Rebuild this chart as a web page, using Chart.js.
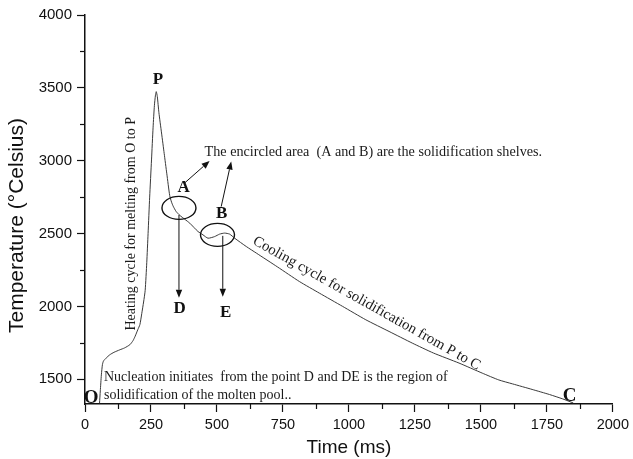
<!DOCTYPE html>
<html>
<head>
<meta charset="utf-8">
<script src="https://cdn.jsdelivr.net/npm/chart.js@4"></script>
<style>
html,body{margin:0;padding:0;background:#fff;}
#wrap{width:633px;height:459px;position:relative;}
</style>
</head>
<body>
<div id="wrap"><canvas id="c" width="633" height="459"></canvas></div>
<script>
// ---- data ----
const timeMs = [55, 58, 62, 66, 70, 80, 94, 110, 132, 150, 170, 182, 190, 200, 208, 215, 222, 228, 234, 239, 245, 252, 258, 263, 267, 270, 274, 280, 290, 300, 310, 321, 328, 334, 345, 359, 378, 397, 428, 447, 466, 491, 510, 529, 548, 567, 611, 649, 730, 812, 888, 976, 1064, 1152, 1240, 1320, 1417, 1505, 1568, 1620, 1694, 1760, 1810, 1850];
const tempC  = [1335, 1420, 1530, 1600, 1625, 1645, 1668, 1685, 1702, 1715, 1737, 1765, 1795, 1840, 1875, 1950, 2030, 2110, 2300, 2500, 2750, 3005, 3230, 3380, 3450, 3474, 3440, 3330, 3190, 3050, 2910, 2760, 2715, 2688, 2652, 2625, 2598, 2571, 2514, 2491, 2468, 2479, 2496, 2503, 2496, 2468, 2411, 2366, 2270, 2171, 2091, 2000, 1908, 1828, 1748, 1680, 1611, 1542, 1495, 1468, 1430, 1395, 1365, 1337];
const xTicks = [0, 125, 250, 375, 500, 625, 750, 875, 1000, 1125, 1250, 1375, 1500, 1625, 1750, 1875, 2000];
const yTicks = [1500, 1750, 2000, 2250, 2500, 2750, 3000, 3250, 3500, 3750, 4000];
const xLabelEvery = 250;
const yLabelEvery = 500;
const xTitle = 'Time (ms)';
const yTitle = 'Temperature (°Celsius)';

const points = timeMs.map((t, i) => ({x: t, y: tempC[i]}));

// ---- annotations (data coordinates) ----
const serif = '"Liberation Serif", "Times New Roman", serif';
const sans = '"Liberation Sans", Arial, sans-serif';
const letters = [
  {t: 'P', x: 276, y: 3555, size: 17},
  {t: 'O', x: 23, y: 1373, size: 19},
  {t: 'C', x: 1836, y: 1385, size: 19},
  {t: 'A', x: 374, y: 2814, size: 17},
  {t: 'B', x: 518, y: 2635, size: 17},
  {t: 'D', x: 359, y: 1984, size: 17},
  {t: 'E', x: 533, y: 1956, size: 17}
];
const ellipses = [
  {x: 356, y: 2676, rx: 17, ry: 11.5},
  {x: 502, y: 2491, rx: 17, ry: 11.5}
];
const arrows = [
  {x1: 378, y1: 2848, x2: 472, y2: 2998},
  {x1: 516, y1: 2685, x2: 554, y2: 2994},
  {x1: 356, y1: 2628, x2: 356, y2: 2059},
  {x1: 522, y1: 2484, x2: 522, y2: 2066}
];
const notes = [
  {t: 'The encircled area  (A and B) are the solidification shelves.', x: 453, y: 3061, rot: 0, size: 14.2},
  {t: 'Heating cycle for melting from O to P', x: 174, y: 2567, rot: -90, size: 14, align: 'center'},
  {t: 'Cooling cycle for solidification from P to C', x: 640, y: 2455, rot: 29.3, size: 14.8},
  {t: 'Nucleation initiates  from the point D and DE is the region of', x: 72, y: 1512, rot: 0, size: 14},
  {t: 'solidification of the molten pool..', x: 72, y: 1387, rot: 0, size: 14}
];

const annot = {
  id: 'annot',
  afterDatasetsDraw(chart) {
    const ctx = chart.ctx, xs = chart.scales.x, ys = chart.scales.y;
    const px = v => xs.getPixelForValue(v), py = v => ys.getPixelForValue(v);
    ctx.save();
    // minor ticks
    ctx.strokeStyle = '#111'; ctx.lineWidth = 1.2;
    xTicks.forEach(v => {
      if (v % xLabelEvery !== 0) {
        const X = Math.round(px(v)) + 0.5;
        ctx.beginPath(); ctx.moveTo(X, ys.bottom); ctx.lineTo(X, ys.bottom + 5); ctx.stroke();
      }
    });
    yTicks.forEach(v => {
      if (v % yLabelEvery !== 0) {
        const Y = Math.round(py(v)) + 0.5;
        ctx.beginPath(); ctx.moveTo(xs.left, Y); ctx.lineTo(xs.left - 5, Y); ctx.stroke();
      }
    });
    // y axis title (positioned like the reference, slightly below centre)
    ctx.save();
    ctx.fillStyle = '#111';
    ctx.font = '21px ' + sans;
    ctx.translate(17, (ys.top + ys.bottom) / 2 + 16);
    ctx.rotate(-Math.PI / 2);
    ctx.textAlign = 'center'; ctx.textBaseline = 'middle';
    ctx.fillText(yTitle, 0, 0);
    ctx.restore();
    // ellipses
    ctx.strokeStyle = '#111'; ctx.lineWidth = 1.4;
    ellipses.forEach(e => {
      ctx.beginPath(); ctx.ellipse(px(e.x), py(e.y), e.rx, e.ry, 0, 0, Math.PI * 2); ctx.stroke();
    });
    // arrows
    ctx.lineWidth = 1; ctx.fillStyle = '#111';
    arrows.forEach(a => {
      const X1 = px(a.x1), Y1 = py(a.y1), X2 = px(a.x2), Y2 = py(a.y2);
      const ang = Math.atan2(Y2 - Y1, X2 - X1), L = 8, W = 3.2;
      const bx = X2 - L * Math.cos(ang), by = Y2 - L * Math.sin(ang);
      ctx.beginPath(); ctx.moveTo(X1, Y1); ctx.lineTo(bx, by); ctx.stroke();
      ctx.beginPath(); ctx.moveTo(X2, Y2);
      ctx.lineTo(bx + W * Math.sin(ang), by - W * Math.cos(ang));
      ctx.lineTo(bx - W * Math.sin(ang), by + W * Math.cos(ang));
      ctx.closePath(); ctx.fill();
    });
    // letters
    ctx.textAlign = 'center'; ctx.textBaseline = 'middle';
    letters.forEach(l => {
      ctx.font = 'bold ' + l.size + 'px ' + serif;
      ctx.fillText(l.t, px(l.x), py(l.y));
    });
    // notes
    ctx.fillStyle = '#1a1a1a';
    notes.forEach(n => {
      ctx.save();
      ctx.translate(px(n.x), py(n.y));
      ctx.rotate(n.rot * Math.PI / 180);
      ctx.font = n.size + 'px ' + serif;
      ctx.textAlign = n.align || 'left'; ctx.textBaseline = 'middle';
      ctx.fillText(n.t, 0, 0);
      ctx.restore();
    });
    ctx.restore();
  }
};

new Chart(document.getElementById('c'), {
  type: 'scatter',
  data: {
    datasets: [{
      data: points,
      showLine: true,
      borderColor: '#3a3a3a',
      borderWidth: 1,
      pointRadius: 0,
      tension: 0.2
    }]
  },
  options: {
    responsive: false,
    animation: false,
    events: [],
    layout: {padding: {left: 0, right: 18, top: 15, bottom: 0}},
    plugins: {legend: {display: false}, tooltip: {enabled: false}},
    scales: {
      x: {
        type: 'linear', min: 0, max: 2000,
        afterBuildTicks: s => { s.ticks = xTicks.map(v => ({value: v})); },
        afterFit: s => { s.height = 55; },
        ticks: {
          autoSkip: false, maxRotation: 0, padding: 4, color: '#111',
          font: {family: sans, size: 14.5},
          callback: v => (v % xLabelEvery === 0 ? String(v) : '')
        },
        grid: {drawOnChartArea: false, tickLength: 8, tickWidth: 1.2,
               tickColor: c => (c.tick && c.tick.value % xLabelEvery === 0 ? '#111' : 'rgba(0,0,0,0)')},
        border: {color: '#111', width: 1.5},
        title: {display: true, text: xTitle, color: '#111', font: {family: sans, size: 19}, padding: {top: 8, bottom: 0}}
      },
      y: {
        type: 'linear', min: 1330, max: 4000,
        afterBuildTicks: s => { s.ticks = yTicks.map(v => ({value: v})); },
        afterFit: s => { s.width = 85; },
        ticks: {
          autoSkip: false, padding: 5, color: '#111',
          font: {family: sans, size: 15},
          callback: v => (v % yLabelEvery === 0 ? String(v) : '')
        },
        grid: {drawOnChartArea: false, tickLength: 8, tickWidth: 1.2,
               tickColor: c => (c.tick && c.tick.value % yLabelEvery === 0 ? '#111' : 'rgba(0,0,0,0)')},
        border: {color: '#111', width: 1.5},
        title: {display: false, text: yTitle}
      }
    }
  },
  plugins: [annot]
});
</script>
</body>
</html>
